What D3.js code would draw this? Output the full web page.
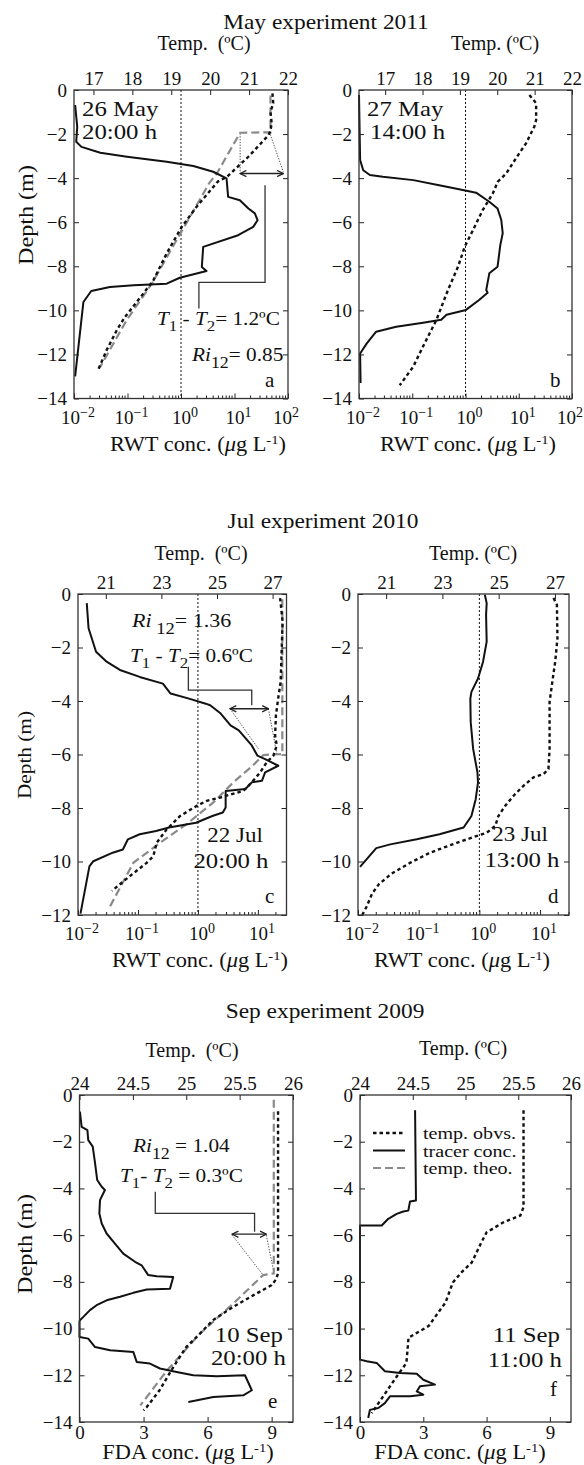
<!DOCTYPE html>
<html>
<head>
<meta charset="utf-8">
<script src="https://cdn.jsdelivr.net/npm/d3@7"></script>
<style>
  body { margin: 0; background: #fff; }
  svg text { font-family: "Liberation Serif", "Times New Roman", serif; fill: #111; }
</style>
</head>
<body>
<svg id="fig" width="584" height="1465"></svg>
<script>
// ---------------- tick values ----------------
const depthTicks14 = [0, -2, -4, -6, -8, -10, -12, -14];
const depthTicks12 = [0, -2, -4, -6, -8, -10, -12];
const tempTicksMay = [17, 18, 19, 20, 21, 22];
const tempTicksJul = [21, 23, 25, 27];
const tempTicksSep = [24, 24.5, 25, 25.5, 26];
const rwtTicksMay = [0.01, 0.1, 1, 10, 100];
const rwtTicksJul = [0.01, 0.1, 1, 10];
const fdaTicks = [0, 3, 6, 9];

// ---------------- profiles: [value, depth (m)] ----------------
// May 2011, 26 May 20:00 h
const tracerA = [[0.0105,-0.68],[0.0115,-1.67],[0.011,-2.35],[0.0138,-2.58],[0.031,-2.85],[0.098,-3.03],[0.54,-3.26],[1.7,-3.45],[4.0,-3.71],[7.1,-4.01],[7.6,-4.85],[12.6,-5.0],[18.2,-5.38],[24,-5.6],[27,-5.91],[22.4,-6.21],[11.7,-6.59],[2.6,-7.12],[2.45,-8.03],[3.0,-8.21],[0.95,-8.52],[0.54,-8.79],[0.13,-8.86],[0.047,-8.94],[0.021,-9.12],[0.015,-9.62],[0.0105,-13.0]];
const tempObsA = [[21.6,-0.15],[21.62,-0.6],[21.55,-1.0],[21.58,-1.5],[21.55,-1.85],[21.5,-2.05],[20.98,-3.03],[20.43,-3.94],[20.2,-4.15],[19.65,-5.3],[19.27,-6.21],[18.88,-7.42],[18.54,-8.64],[18.28,-9.24],[17.81,-10.3],[17.6,-10.9],[17.34,-11.8],[17.12,-12.7]];
const tempTheoA = [[21.55,-0.25],[21.55,-1.92],[20.77,-1.94],[20.17,-3.79],[19.98,-4.21],[19.48,-5.76],[19.01,-7.2],[18.5,-8.79],[17.85,-10.45],[17.17,-12.58]];
// May 2011, 27 May 14:00 h
const tracerB = [[0.0100,-0.23],[0.0105,-3.18],[0.012,-3.64],[0.016,-3.86],[0.028,-3.94],[0.105,-4.09],[0.32,-4.32],[0.89,-4.54],[1.58,-4.66],[2.8,-5.07],[4.0,-5.38],[4.7,-5.9],[5.0,-6.5],[4.5,-7.04],[4.0,-8.02],[2.8,-8.32],[2.45,-9.08],[2.6,-9.2],[1.8,-9.53],[1.02,-9.98],[0.44,-10.2],[0.35,-10.43],[0.16,-10.56],[0.05,-10.74],[0.021,-10.97],[0.014,-11.5],[0.0105,-11.96],[0.0107,-13.3]];
const tempObsB = [[20.86,-0.23],[21.04,-0.6],[21.04,-1.36],[20.99,-1.67],[20.77,-2.42],[20.5,-3.1],[20.24,-3.79],[20.01,-4.17],[19.88,-4.7],[19.61,-5.45],[19.35,-6.36],[19.13,-7.11],[18.95,-8.02],[18.68,-9.08],[18.37,-10.44],[18.01,-11.65],[17.75,-12.56],[17.39,-13.4]];
// Jul 2010, 22 Jul 20:00 h
const tracerC = [[0.014,-0.34],[0.015,-1.28],[0.020,-2.16],[0.030,-2.53],[0.050,-2.84],[0.107,-3.1],[0.26,-3.35],[0.35,-3.72],[0.71,-3.91],[1.35,-4.1],[1.6,-4.16],[2.4,-4.47],[3.5,-4.91],[4.8,-5.1],[7.9,-5.66],[9.8,-6.04],[13.2,-6.17],[21.9,-6.42],[13.2,-6.67],[11.7,-6.98],[7.9,-7.04],[6.2,-7.29],[2.9,-7.36],[2.9,-7.98],[2.6,-8.17],[1.74,-8.3],[0.93,-8.55],[0.33,-8.73],[0.20,-8.86],[0.107,-8.98],[0.068,-9.17],[0.056,-9.55],[0.038,-9.67],[0.018,-9.99],[0.0155,-10.18],[0.011,-11.95]];
const tempObsC = [[27.27,-0.15],[27.36,-1.03],[27.29,-3.28],[27.2,-3.91],[27.12,-4.54],[27.09,-5.29],[27.15,-5.66],[27.03,-6.04],[26.79,-6.29],[26.55,-6.67],[26.25,-7.04],[25.95,-7.36],[25.11,-7.61],[24.63,-7.73],[24.27,-7.92],[23.67,-8.3],[23.19,-8.8],[22.83,-9.3],[22.71,-9.8],[22.47,-10.05],[21.8,-10.6],[21.22,-11.1]];
const tempTheoC = [[27.35,-0.2],[27.35,-5.98],[26.67,-6.02],[26.31,-6.39],[25.59,-7.04],[24.87,-7.79],[23.91,-8.6],[22.95,-9.3],[21.99,-10.05],[21.09,-11.8]];
// Jul 2010, 23 Jul 13:00 h
const tracerD = [[1.23,-0.03],[1.32,-0.34],[1.29,-0.78],[1.32,-1.78],[1.15,-2.53],[0.95,-3.16],[0.74,-3.66],[0.71,-3.91],[0.72,-4.79],[0.79,-5.79],[0.93,-6.67],[0.95,-7.04],[0.87,-7.67],[0.74,-8.3],[0.55,-8.73],[0.22,-8.98],[0.093,-9.17],[0.034,-9.36],[0.02,-9.5],[0.0108,-10.2]];
const tempObsD = [[26.95,-0.15],[27.07,-0.4],[27.09,-1.65],[27.01,-2.53],[26.89,-3.41],[26.81,-4.04],[26.81,-5.79],[26.77,-6.54],[26.6,-6.73],[26.24,-6.85],[25.88,-7.17],[25.53,-7.54],[25.23,-7.92],[24.99,-8.3],[24.88,-8.67],[24.58,-8.92],[23.51,-9.3],[22.56,-9.67],[21.85,-10.05],[21.2,-10.45],[20.74,-10.85],[20.5,-11.2],[20.3,-11.7],[20.15,-12.0]];
// Sep 2009, 10 Sep 20:00 h
const tracerE = [[0.02,-0.71],[0.1,-1.36],[0.37,-1.5],[0.41,-1.93],[0.62,-2.21],[0.73,-2.93],[0.83,-3.64],[1.04,-3.93],[1.19,-4.07],[0.96,-4.5],[0.93,-5.07],[1.04,-5.5],[1.27,-5.93],[1.66,-6.36],[2.05,-6.79],[2.6,-7.14],[2.91,-7.29],[3.22,-7.71],[3.62,-7.76],[4.39,-7.79],[4.24,-8.29],[3.15,-8.33],[2.52,-8.47],[1.9,-8.64],[1.27,-8.79],[0.8,-9.0],[0.49,-9.21],[0.18,-9.5],[0.02,-9.64],[0,-9.7],[0,-10.36],[0.41,-10.43],[0.73,-10.79],[1.43,-10.93],[2.52,-11.0],[2.68,-11.43],[3.3,-11.5],[3.77,-11.71],[4.55,-11.86],[5.33,-12.0],[6.43,-12.04],[7.75,-12.0],[8.07,-12.64],[7.67,-12.86],[6.27,-12.93],[5.1,-13.14]];
const tempObsE = [[25.86,-0.7],[25.86,-7.64],[25.84,-7.9],[25.8,-8.14],[25.63,-8.57],[25.44,-9.07],[25.25,-9.64],[25.13,-10.21],[25.0,-10.79],[24.88,-11.64],[24.75,-12.64],[24.63,-13.36],[24.6,-13.5]];
const tempTheoE = [[25.82,-0.2],[25.82,-7.64],[25.72,-7.71],[25.44,-8.93],[25.13,-10.21],[24.82,-11.79],[24.57,-13.29]];
// Sep 2009, 11 Sep 11:00 h
const tracerF = [[2.61,-0.65],[2.65,-4.3],[2.65,-4.52],[2.37,-4.56],[2.29,-4.95],[2.05,-4.99],[1.74,-5.09],[1.34,-5.3],[1.03,-5.59],[0,-5.59],[0,-11.33],[0.32,-11.4],[0.79,-11.47],[1.18,-11.83],[1.9,-11.9],[2.69,-11.93],[3.0,-12.19],[3.55,-12.4],[2.84,-12.47],[2.69,-12.69],[3.0,-12.83],[2.37,-12.9],[1.42,-12.9],[1.18,-13.19],[0.87,-13.4],[0.47,-13.48],[0.39,-13.83]];
const tempObsF = [[25.55,-0.65],[25.55,-4.8],[25.52,-5.16],[25.36,-5.45],[25.2,-5.88],[25.15,-6.31],[25.06,-7.17],[24.96,-7.6],[24.88,-8.03],[24.81,-8.89],[24.65,-9.89],[24.54,-10.18],[24.46,-10.39],[24.44,-11.47],[24.35,-12.04],[24.22,-12.9],[24.11,-13.62]];

// ---------------- T1 - T2 markers: [temperature, depth] ----------------
const arrowA = [[20.77,-3.79],[21.88,-3.79]];
const guidesA = [[[20.77,-1.97],[20.77,-3.72]], [[21.52,-1.89],[21.88,-3.72]]];
const bracketA = [[21.41,-4.32],[21.41,-8.73],[19.71,-8.73],[19.71,-9.92]];
const arrowC = [[25.47,-4.29],[26.85,-4.29]];
const guidesC = [[[25.47,-4.29],[26.49,-5.79]], [[26.85,-4.29],[27.15,-5.98]]];
const bracketC = [[23.97,-2.72],[23.97,-3.59],[26.25,-3.59],[26.25,-4.16]];
const arrowE = [[25.43,-5.96],[25.75,-5.96]];
const guidesE = [[[25.43,-6.0],[25.72,-7.71]], [[25.75,-6.0],[25.82,-7.57]]];
const bracketE = [[24.71,-4.14],[24.71,-5.07],[25.64,-5.07],[25.64,-5.86]];

// ---------------- drawing ----------------
const svg = d3.select("#fig");
const defs = svg.append("defs");
defs.append("marker")
  .attr("id", "arrowHead").attr("viewBox", "0 0 10 10")
  .attr("refX", 9).attr("refY", 5).attr("markerWidth", 6).attr("markerHeight", 6)
  .attr("orient", "auto-start-reverse")
  .append("path").attr("d", "M1,1 L9,5 L1,9").attr("fill", "none")
  .attr("stroke", "#222").attr("stroke-width", 1.6);

const INK = "#222";
const TICK_FS = 19;

// text with optional italic / sub / superscript parts
function txt(parent, x, y, parts, o = {}) {
  const t = parent.append("text")
    .attr("transform", `translate(${x},${y})` + (o.rot ? ` rotate(${o.rot})` : "") + ` scale(${o.sx || 1},1)`)
    .attr("font-size", o.size || 18)
    .attr("text-anchor", o.anchor || "start");
  (typeof parts === "string" ? [{ t: parts }] : parts).forEach(p => {
    const s = t.append("tspan").text(p.t);
    if (p.it) s.attr("font-style", "italic");
    if (p.fs) s.attr("font-size", p.fs);
    if (p.dy) s.attr("dy", p.dy);
  });
  return t;
}

function drawPanel(p) {
  const g = svg.append("g");
  const { l, r, t, b } = p.frame;
  const y = d3.scaleLinear().domain([0, p.depthMin]).range([t, b]);
  const xt = d3.scaleLinear().domain(p.tempDomain).range([l, r]);
  const xc = (p.logConc ? d3.scaleLog() : d3.scaleLinear()).domain(p.concDomain).range([l, r]);
  const lineT = d3.line().x(d => xt(d[0])).y(d => y(d[1]));
  const lineC = d3.line().x(d => xc(d[0])).y(d => y(d[1]));

  // reference line at 1 ug/L
  if (p.logConc) {
    g.append("line").attr("x1", xc(1)).attr("x2", xc(1)).attr("y1", t).attr("y2", b)
      .attr("stroke", "#111").attr("stroke-width", 1).attr("stroke-dasharray", "2,2");
  }
  // mixing annotation
  if (p.arrow) {
    p.guides.forEach(gd => g.append("path").attr("d", lineT(gd)).attr("fill", "none")
      .attr("stroke", "#444").attr("stroke-width", 0.9).attr("stroke-dasharray", "1.4,1.4"));
    g.append("path").attr("d", lineT(p.arrow)).attr("fill", "none")
      .attr("stroke", INK).attr("stroke-width", 1.3)
      .attr("marker-start", "url(#arrowHead)").attr("marker-end", "url(#arrowHead)");
    g.append("path").attr("d", lineT(p.bracket)).attr("fill", "none")
      .attr("stroke", "#333").attr("stroke-width", 1.3);
  }
  if (p.theo) {
    g.append("path").attr("d", lineT(p.theo)).attr("fill", "none")
      .attr("stroke", "#8a8a8a").attr("stroke-width", 2.2).attr("stroke-dasharray", "8,4");
  }
  g.append("path").attr("d", lineT(p.obs)).attr("fill", "none")
    .attr("stroke", "#111").attr("stroke-width", 2.4).attr("stroke-dasharray", "3.5,3");
  g.append("path").attr("d", lineC(p.tracer)).attr("fill", "none")
    .attr("stroke", "#111").attr("stroke-width", 2).attr("stroke-linejoin", "round");

  // axes (ticks point inward)
  const styleAxis = sel => {
    sel.select(".domain").remove();
    sel.attr("font-family", null).attr("font-size", TICK_FS).attr("color", INK);
  };
  g.append("g").attr("transform", `translate(${l},0)`)
    .call(d3.axisLeft(y).tickValues(p.depthTicks).tickSize(-5).tickPadding(7))
    .call(styleAxis);
  g.append("g").attr("transform", `translate(${r},0)`)
    .call(d3.axisRight(y).tickValues(p.depthTicks).tickSize(-5).tickFormat(""))
    .call(styleAxis);
  g.append("g").attr("transform", `translate(0,${t})`)
    .call(d3.axisTop(xt).tickValues(p.tempTicks).tickSize(-5).tickPadding(5).tickFormat(d => String(d)))
    .call(styleAxis);

  if (p.logConc) {
    g.append("g").attr("transform", `translate(0,${b})`)
      .call(d3.axisBottom(xc).tickValues(p.concTicks).tickSize(-5).tickFormat(""))
      .call(styleAxis);
    const minor = xc.ticks().filter(v => Math.abs(Math.log10(v) - Math.round(Math.log10(v))) > 1e-6);
    g.append("g").selectAll("line").data(minor).join("line")
      .attr("x1", d => xc(d)).attr("x2", d => xc(d)).attr("y1", b).attr("y2", b - 3)
      .attr("stroke", INK).attr("stroke-width", 1);
    p.concTicks.forEach((v, i) => {
      const e = Math.round(Math.log10(v));
      let shift = 4;
      if (i === p.concTicks.length - 1 && p.concDomain[1] === v) shift = -2;
      txt(g, xc(v) + shift, b + 25, [{ t: "10" }, { t: String(e).replace("-", "\u2212"), fs: 14, dy: -7 }],
        { anchor: "middle", size: 19 });
    });
  } else {
    g.append("g").attr("transform", `translate(0,${b})`)
      .call(d3.axisBottom(xc).tickValues(p.concTicks).tickSize(-5).tickPadding(4))
      .call(styleAxis);
  }

  g.append("rect").attr("x", l).attr("y", t).attr("width", r - l).attr("height", b - t)
    .attr("fill", "none").attr("stroke", "#333").attr("stroke-width", 1.3);

  p.texts.forEach(tx => txt(g, tx.x, tx.y, tx.parts, tx.o));
}

const ANN = { size: 19, sx: 1.12 };
const DATE = { size: 20, sx: 1.24 };
const AXT = { size: 20, anchor: "middle" };
const CONC = { size: 20, sx: 1.12, anchor: "middle" };
const concTitle = name => [{ t: name + " conc. (" }, { t: "\u03bc", it: true }, { t: "g L" }, { t: "-1", fs: 13, dy: -7 }, { t: ")", dy: 7 }];
const riParts = (val, gap) => [{ t: "Ri", it: true }, { t: (gap ? "\u00a0" : "") + "12", fs: 16, dy: 7 }, { t: "= " + val, dy: -7 }];
const dtParts = (val, sp) => [{ t: "T", it: true }, { t: "1", fs: 15, dy: 6 }, { t: sp[0], dy: -6 }, { t: "T", it: true }, { t: "2", fs: 15, dy: 6 }, { t: sp[1] + val + "\u00baC", dy: -6 }];

// figure titles
txt(svg, 326, 29, "May experiment 2011", { size: 20, sx: 1.17, anchor: "middle" });
txt(svg, 323, 528, "Jul experiment 2010", { size: 20, sx: 1.17, anchor: "middle" });
txt(svg, 325, 1018, "Sep experiment 2009", { size: 20, sx: 1.17, anchor: "middle" });

const panels = [
  { frame: { l: 74, r: 288, t: 90, b: 398.5 }, depthMin: -14, depthTicks: depthTicks14,
    tempDomain: [16.5, 22], tempTicks: tempTicksMay, logConc: true, concDomain: [0.01, 100], concTicks: rwtTicksMay,
    tracer: tracerA, obs: tempObsA, theo: tempTheoA, arrow: arrowA, guides: guidesA, bracket: bracketA,
    texts: [
      { x: 204, y: 50, parts: "Temp.\u00a0 (\u00baC)", o: AXT },
      { x: 198, y: 451, parts: concTitle("RWT"), o: CONC },
      { x: 33, y: 215, parts: "Depth (m)", o: { size: 21, sx: 1.15, rot: -90, anchor: "middle" } },
      { x: 82, y: 116, parts: "26 May", o: DATE },
      { x: 82, y: 139, parts: "20:00 h", o: DATE },
      { x: 157, y: 325, parts: dtParts("1.2", [" - ", "= "]), o: ANN },
      { x: 192, y: 361, parts: riParts("0.85", false), o: ANN },
      { x: 265, y: 387, parts: "a", o: { size: 21 } }
    ] },
  { frame: { l: 359, r: 572, t: 90, b: 398.5 }, depthMin: -14, depthTicks: depthTicks14,
    tempDomain: [16.3, 22], tempTicks: tempTicksMay, logConc: true, concDomain: [0.01, 100], concTicks: rwtTicksMay,
    tracer: tracerB, obs: tempObsB,
    texts: [
      { x: 495, y: 50, parts: "Temp. (\u00baC)", o: AXT },
      { x: 468, y: 451, parts: concTitle("RWT"), o: CONC },
      { x: 367, y: 116, parts: "27 May", o: DATE },
      { x: 370, y: 139, parts: "14:00 h", o: DATE },
      { x: 550, y: 387, parts: "b", o: { size: 21 } }
    ] },
  { frame: { l: 78, r: 286.5, t: 594, b: 915 }, depthMin: -12, depthTicks: depthTicks12,
    tempDomain: [20, 27.5], tempTicks: tempTicksJul, logConc: true, concDomain: [0.01, 30], concTicks: rwtTicksJul,
    tracer: tracerC, obs: tempObsC, theo: tempTheoC, arrow: arrowC, guides: guidesC, bracket: bracketC,
    texts: [
      { x: 201, y: 560, parts: "Temp.\u00a0 (\u00baC)", o: AXT },
      { x: 200, y: 967, parts: concTitle("RWT"), o: CONC },
      { x: 31, y: 755, parts: "Depth (m)", o: { size: 19, sx: 1.12, rot: -90, anchor: "middle" } },
      { x: 132, y: 627, parts: riParts("1.36", true), o: { size: 19, sx: 1.16 } },
      { x: 130, y: 662, parts: dtParts("0.6", [" - ", "= "]), o: ANN },
      { x: 235, y: 842, parts: "22 Jul", o: { ...DATE, sx: 1.15, anchor: "middle" } },
      { x: 231, y: 868, parts: "20:00 h", o: { ...DATE, anchor: "middle" } },
      { x: 265, y: 903, parts: "c", o: { size: 21 } }
    ] },
  { frame: { l: 358, r: 569, t: 594, b: 915 }, depthMin: -12, depthTicks: depthTicks12,
    tempDomain: [20, 27.5], tempTicks: tempTicksJul, logConc: true, concDomain: [0.01, 30], concTicks: rwtTicksJul,
    tracer: tracerD, obs: tempObsD,
    texts: [
      { x: 473, y: 560, parts: "Temp. (\u00baC)", o: AXT },
      { x: 462, y: 967, parts: concTitle("RWT"), o: CONC },
      { x: 520, y: 841, parts: "23 Jul", o: { ...DATE, sx: 1.15, anchor: "middle" } },
      { x: 522, y: 867, parts: "13:00 h", o: { ...DATE, anchor: "middle" } },
      { x: 548, y: 903, parts: "d", o: { size: 21 } }
    ] },
  { frame: { l: 79.5, r: 293, t: 1095, b: 1422 }, depthMin: -14, depthTicks: depthTicks14,
    tempDomain: [24, 26], tempTicks: tempTicksSep, logConc: false, concDomain: [0, 10], concTicks: fdaTicks,
    tracer: tracerE, obs: tempObsE, theo: tempTheoE, arrow: arrowE, guides: guidesE, bracket: bracketE,
    texts: [
      { x: 192, y: 1057, parts: "Temp.\u00a0 (\u00baC)", o: AXT },
      { x: 188, y: 1459, parts: concTitle("FDA"), o: CONC },
      { x: 32, y: 1244, parts: "Depth (m)", o: { size: 21, sx: 1.15, rot: -90, anchor: "middle" } },
      { x: 133, y: 1152, parts: riParts("1.04", false).map((d, i) => i === 2 ? { ...d, t: " = 1.04" } : d), o: ANN },
      { x: 120, y: 1182, parts: dtParts("0.3", ["- ", " = "]), o: ANN },
      { x: 283, y: 1342, parts: "10 Sep", o: { ...DATE, anchor: "end" } },
      { x: 286, y: 1365, parts: "20:00 h", o: { ...DATE, anchor: "end" } },
      { x: 268, y: 1408, parts: "e", o: { size: 21 } }
    ] },
  { frame: { l: 360, r: 571, t: 1095, b: 1422 }, depthMin: -14, depthTicks: depthTicks14,
    tempDomain: [24, 26], tempTicks: tempTicksSep, logConc: false, concDomain: [0, 10], concTicks: fdaTicks,
    tracer: tracerF, obs: tempObsF,
    texts: [
      { x: 463, y: 1055, parts: "Temp. (\u00baC)", o: AXT },
      { x: 460, y: 1459, parts: concTitle("FDA"), o: CONC },
      { x: 560, y: 1342, parts: "11 Sep", o: { ...DATE, anchor: "end" } },
      { x: 562, y: 1367, parts: "11:00 h", o: { ...DATE, anchor: "end" } },
      { x: 550, y: 1396, parts: "f", o: { size: 21 } }
    ] }
];

panels.forEach(drawPanel);

// legend (panel f)
const legendItems = [
  { label: "temp. obvs.", stroke: "#111", width: 2.4, dash: "3.5,3" },
  { label: "tracer conc.", stroke: "#111", width: 2, dash: null },
  { label: "temp. theo.", stroke: "#8a8a8a", width: 2.2, dash: "8,4" }
];
const leg = svg.append("g").attr("transform", "translate(373,1133)");
legendItems.forEach((it, i) => {
  const yy = i * 17.5;
  leg.append("line").attr("x1", 0).attr("x2", 32).attr("y1", yy).attr("y2", yy)
    .attr("stroke", it.stroke).attr("stroke-width", it.width).attr("stroke-dasharray", it.dash);
  txt(leg, 50, yy + 6, it.label, { size: 17, sx: 1.18 });
});
</script>
</body>
</html>
